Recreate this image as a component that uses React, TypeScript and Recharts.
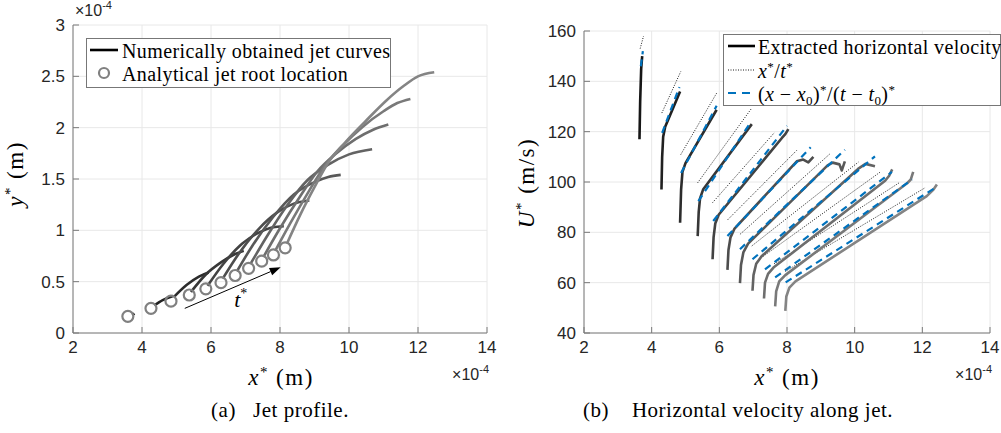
import React from 'react';
import { ComposedChart, Line, XAxis, YAxis, CartesianGrid, ReferenceLine } from 'recharts';

const SERIF = '"Liberation Serif", "DejaVu Serif", serif';
const SANS = '"Liberation Sans", Arial, sans-serif';

// x values are in units of 1e-4 m
const xTicks = [2, 4, 6, 8, 10, 12, 14];
const yTicksProfile = [0, 0.5, 1, 1.5, 2, 2.5, 3];
const uTicks = [40, 60, 80, 100, 120, 140, 160];

// (a) jet roots (analytical)
const jetRoots = [
  [3.59, 0.162], [4.26, 0.24], [4.84, 0.31], [5.37, 0.37], [5.85, 0.43], [6.29, 0.49],
  [6.70, 0.56], [7.09, 0.63], [7.47, 0.70], [7.81, 0.76], [8.15, 0.83],
];

// (a) numerically obtained jet curves
const jet1 = [[3.72, 0.175], [3.78, 0.19]];
const jet2 = [[4.36, 0.27], [4.6, 0.32], [4.9, 0.36]];
const jet3 = [[4.92, 0.35], [5.3, 0.47], [5.65, 0.55], [5.93, 0.59]];
const jet4 = [[5.42, 0.4], [5.85, 0.57], [6.3, 0.69], [6.7, 0.77], [6.95, 0.8]];
const jet5 = [[5.9, 0.46], [6.35, 0.67], [6.9, 0.87], [7.4, 0.98], [7.8, 1.03], [8.11, 1.04]];
const jet6 = [[6.34, 0.53], [6.8, 0.77], [7.4, 1.02], [7.9, 1.17], [8.4, 1.26], [8.85, 1.29]];
const jet7 = [[6.75, 0.6], [7.2, 0.85], [7.8, 1.13], [8.4, 1.35], [9.0, 1.47], [9.4, 1.52], [9.76, 1.54]];
const jet8 = [[7.14, 0.67], [7.6, 0.93], [8.2, 1.24], [8.8, 1.49], [9.4, 1.64], [10.0, 1.74], [10.67, 1.79]];
const jet9 = [[7.52, 0.74], [8.0, 1.02], [8.6, 1.34], [9.1, 1.58], [9.6, 1.74], [10.2, 1.89], [10.7, 1.98], [11.14, 2.03]];
const jet10 = [[7.86, 0.8], [8.3, 1.07], [8.8, 1.36], [9.3, 1.63], [9.8, 1.82], [10.4, 2.01], [11.0, 2.16], [11.4, 2.24], [11.78, 2.28]];
const jet11 = [[8.2, 0.87], [8.6, 1.16], [9.0, 1.42], [9.4, 1.66], [9.9, 1.86], [10.5, 2.07], [11.1, 2.27], [11.6, 2.41], [12.0, 2.5], [12.47, 2.54]];
const jets = [jet1, jet2, jet3, jet4, jet5, jet6, jet7, jet8, jet9, jet10, jet11];

// t* arrow
const arrowStart = { x: 5.24, y: 0.24 };
const arrowEnd = { x: 8.02, y: 0.64 };

// (b) extracted horizontal velocity
const vel1 = [[3.64, 117], [3.66, 132], [3.69, 145], [3.72, 150]];
const vel2 = [[4.29, 97], [4.31, 110], [4.34, 118], [4.4, 122], [4.84, 136]];
const vel3 = [[4.84, 83.8], [4.87, 97], [4.91, 104], [5.0, 107.5], [5.92, 128.7]];
const vel4 = [[5.36, 78.5], [5.39, 88], [5.43, 93.5], [5.52, 97], [6.96, 123]];
const vel5 = [[5.8, 69.3], [5.83, 78], [5.88, 83.5], [5.98, 87], [7.85, 117.5], [7.95, 119], [8.04, 121]];
const vel6 = [[6.24, 65.1], [6.27, 73], [6.33, 78], [6.45, 81.5], [8.29, 108.2], [8.48, 108.9], [8.63, 107.8], [8.78, 110]];
const vel7 = [[6.61, 59.8], [6.64, 67], [6.71, 72], [6.85, 75.5], [9.2, 106.6], [9.35, 107.7], [9.55, 107], [9.62, 104.6], [9.71, 108.2]];
const vel8 = [[6.98, 56.8], [7.01, 63], [7.09, 67.5], [7.25, 70.5], [10.1, 105.2], [10.32, 107.2], [10.6, 106.3]];
const vel9 = [[7.32, 53.7], [7.35, 60], [7.44, 63.5], [7.6, 66], [10.9, 100.5], [11.02, 102.5], [11.11, 105]];
const vel10 = [[7.65, 50.6], [7.68, 56.5], [7.77, 60.5], [7.95, 63], [11.55, 99.5], [11.66, 101], [11.73, 104]];
const vel11 = [[7.95, 48.8], [7.98, 54.5], [8.07, 58], [8.25, 60.5], [12.13, 94.4], [12.33, 97], [12.43, 99]];
const velocities = [vel1, vel2, vel3, vel4, vel5, vel6, vel7, vel8, vel9, vel10, vel11];

// (b) x*/t*
const xOverT = [
  [[3.66, 153], [3.76, 158]], [[4.3, 127.4], [4.86, 143.9]], [[4.86, 110.9], [5.92, 135.3]],
  [[5.36, 99.7], [6.96, 129.4]], [[5.8, 91.8], [7.62, 119.5]], [[6.24, 84.9], [8.29, 112.6]],
  [[6.61, 79.2], [9.27, 111.2]], [[6.96, 74.6], [10.11, 107.9]], [[7.3, 70.5], [10.75, 103.9]],
  [[7.62, 67.5], [11.34, 99.9]], [[7.95, 64.5], [12.08, 97.7]],
];

// (b) (x-x0)*/(t-t0)*
const shifted = [
  [[3.68, 146], [3.74, 152]], [[4.31, 119.5], [4.82, 137.7]], [[4.87, 103.6], [5.92, 130.3]],
  [[5.38, 92.4], [6.91, 123.4]], [[5.82, 84.5], [8.0, 122.3]], [[6.24, 78.5], [8.7, 113.8]],
  [[6.61, 73.3], [9.71, 112.8]], [[6.98, 69.3], [10.6, 110.2]], [[7.35, 65.3], [11.1, 104]],
  [[7.65, 62.1], [11.7, 101]], [[7.96, 60.1], [12.38, 97.7]],
];

const toPts = (arr: number[][]) => arr.map(([x, y]) => ({ x, y }));
const grey = (i: number) => {
  const v = Math.round(22 + i * 11).toString(16).padStart(2, '0');
  return `#${v}${v}${v}`;
};

const AXIS = '#7a7a7a';
const tickStyle = { fill: '#262626', fontSize: 17, fontFamily: SANS };

const ArrowShape = (p: any) => {
  const { x1, y1, x2, y2 } = p;
  const a = Math.atan2(y2 - y1, x2 - x1);
  const L = 11, W = 4;
  const bx = x2 - L * Math.cos(a), by = y2 - L * Math.sin(a);
  const pts = `${x2},${y2} ${bx - W * Math.sin(a)},${by + W * Math.cos(a)} ${bx + W * Math.sin(a)},${by - W * Math.cos(a)}`;
  const mx = (x1 + x2) / 2, my = (y1 + y2) / 2;
  return (
    <g>
      <line x1={x1} y1={y1} x2={bx} y2={by} stroke="#000" strokeWidth={1} />
      <polygon points={pts} fill="#000" />
      <text x={mx + 8} y={my + 19} fontFamily={SERIF} fontSize={22} fontStyle="italic" textAnchor="middle" fill="#000">
        t<tspan fontSize={14} dy={-9} fontStyle="normal">*</tspan>
      </text>
    </g>
  );
};

const sup = (s: string) => <sup style={{ fontSize: '0.65em', verticalAlign: '0.55em', lineHeight: 0 }}>{s}</sup>;
const sub = (s: string) => <sub style={{ fontSize: '0.65em', verticalAlign: '-0.3em', lineHeight: 0 }}>{s}</sub>;

const Exp = ({ left, top, align }: { left: number; top: number; align?: string }) => (
  <div style={{ position: 'absolute', left, top, fontFamily: SANS, fontSize: 16, color: '#262626', whiteSpace: 'nowrap', transform: align === 'right' ? 'translateX(-100%)' : undefined }}>
    ×10<sup style={{ fontSize: 11, verticalAlign: '0.6em', lineHeight: 0 }}>-4</sup>
  </div>
);

const abs = (left: number, top: number, extra: any = {}) => ({ position: 'absolute' as const, left, top, whiteSpace: 'nowrap' as const, ...extra });
const legendText = { fontFamily: SERIF, fontSize: 20, letterSpacing: 0.4, lineHeight: '22px', color: '#000' };
const axisLabel = { fontFamily: SERIF, fontSize: 23, letterSpacing: 1.5, color: '#000' };
const caption = { fontFamily: SERIF, fontSize: 21, letterSpacing: 0.5, color: '#000' };

export default function App() {
  return (
    <div style={{ position: 'absolute', left: 0, top: 0, width: 1001, height: 433, background: '#fff', overflow: 'hidden' }}>
      {/* (a) jet profile */}
      <div style={{ position: 'absolute', left: 0, top: 0 }}>
        <ComposedChart width={500} height={433} margin={{ top: 25, right: 13, bottom: 70, left: 33 }}>
          <CartesianGrid stroke="#e8e8e8" />
          <XAxis type="number" dataKey="x" domain={[2, 14]} ticks={xTicks} allowDataOverflow height={30}
            stroke={AXIS} tickSize={-6} tickMargin={14} tick={tickStyle} />
          <XAxis xAxisId="top" orientation="top" type="number" dataKey="x" domain={[2, 14]} ticks={xTicks} allowDataOverflow
            height={0} stroke={AXIS} tickSize={-6} tick={false} />
          <YAxis type="number" dataKey="y" domain={[0, 3]} ticks={yTicksProfile} allowDataOverflow width={40}
            stroke={AXIS} tickSize={-6} tickMargin={14} tick={tickStyle} />
          <YAxis yAxisId="right" orientation="right" type="number" dataKey="y" domain={[0, 3]} ticks={yTicksProfile}
            allowDataOverflow width={0} stroke={AXIS} tickSize={-6} tick={false} />
          {jets.map((j, i) => (
            <Line key={'jet' + i} data={toPts(j)} dataKey="y" type="monotone" stroke={grey(i)} strokeWidth={2.6}
              dot={false} activeDot={false} isAnimationActive={false} />
          ))}
          <Line data={toPts(jetRoots)} dataKey="y" stroke="none" isAnimationActive={false} activeDot={false}
            dot={{ r: 5.5, stroke: '#808080', strokeWidth: 2.2, fill: 'none' }} />
          <ReferenceLine segment={[arrowStart, arrowEnd]} shape={ArrowShape} ifOverflow="visible" />
        </ComposedChart>
      </div>

      {/* (b) horizontal velocity */}
      <div style={{ position: 'absolute', left: 500, top: 0 }}>
        <ComposedChart width={501} height={433} margin={{ top: 31, right: 11, bottom: 70, left: 44 }}>
          <CartesianGrid stroke="#e8e8e8" />
          <XAxis type="number" dataKey="x" domain={[2, 14]} ticks={xTicks} allowDataOverflow height={30}
            stroke={AXIS} tickSize={-6} tickMargin={14} tick={tickStyle} />
          <XAxis xAxisId="top" orientation="top" type="number" dataKey="x" domain={[2, 14]} ticks={xTicks} allowDataOverflow
            height={0} stroke={AXIS} tickSize={-6} tick={false} />
          <YAxis type="number" dataKey="y" domain={[40, 160]} ticks={uTicks} allowDataOverflow width={40}
            stroke={AXIS} tickSize={-6} tickMargin={14} tick={tickStyle} />
          <YAxis yAxisId="right" orientation="right" type="number" dataKey="y" domain={[40, 160]} ticks={uTicks}
            allowDataOverflow width={0} stroke={AXIS} tickSize={-6} tick={false} />
          {xOverT.map((d, i) => (
            <Line key={'d' + i} data={toPts(d)} dataKey="y" type="linear" stroke="#1a1a1a" strokeWidth={1}
              strokeDasharray="1 1.5" dot={false} activeDot={false} isAnimationActive={false} />
          ))}
          {velocities.map((v, i) => (
            <Line key={'v' + i} data={toPts(v)} dataKey="y" type="linear" stroke={grey(i)} strokeWidth={2.6}
              strokeLinejoin="round" dot={false} activeDot={false} isAnimationActive={false} />
          ))}
          {shifted.map((d, i) => (
            <Line key={'b' + i} data={toPts(d)} dataKey="y" type="linear" stroke="#0072BD" strokeWidth={2.2}
              strokeDasharray="7 5" dot={false} activeDot={false} isAnimationActive={false} />
          ))}
        </ComposedChart>
      </div>

      {/* exponent labels */}
      <Exp left={75} top={2} />
      <Exp left={489} top={366} align="right" />
      <Exp left={992} top={366} align="right" />

      {/* axis labels */}
      <div style={abs(281, 378, { transform: 'translate(-50%,-50%)', ...axisLabel })}>
        <i>x</i>{sup('*')} (m)
      </div>
      <div style={abs(787, 378, { transform: 'translate(-50%,-50%)', ...axisLabel })}>
        <i>x</i>{sup('*')} (m)
      </div>
      <div style={abs(16, 174, { transform: 'translate(-50%,-50%) rotate(-90deg)', ...axisLabel })}>
        <i>y</i>{sup('*')} (m)
      </div>
      <div style={abs(527, 183, { transform: 'translate(-50%,-50%) rotate(-90deg)', ...axisLabel })}>
        <i>U</i>{sup('*')} (m/s)
      </div>

      {/* captions */}
      <div style={abs(280, 410, { transform: 'translate(-50%,-50%)', ...caption })}>
        (a)&nbsp;&nbsp;&nbsp;Jet profile.
      </div>
      <div style={abs(738, 410, { transform: 'translate(-50%,-50%)', ...caption })}>
        (b)&nbsp;&nbsp;&nbsp;&nbsp;Horizontal velocity along jet.
      </div>

      {/* legend (a) */}
      <div style={abs(86, 38, { width: 305, height: 50, border: '1px solid #777', background: '#fff', boxSizing: 'border-box' })}>
        <svg width={305} height={50} style={{ position: 'absolute', left: -1, top: -1 }}>
          <line x1={4} y1={12} x2={32} y2={12} stroke="#000" strokeWidth={2.6} />
          <circle cx={18} cy={35} r={5} stroke="#808080" strokeWidth={2.2} fill="none" />
        </svg>
        <div style={abs(35, 1, legendText)}>Numerically obtained jet curves</div>
        <div style={abs(35, 24, legendText)}>Analytical jet root location</div>
      </div>

      {/* legend (b) */}
      <div style={abs(723, 34, { width: 278, height: 72, border: '1px solid #777', background: '#fff', boxSizing: 'border-box' })}>
        <svg width={278} height={72} style={{ position: 'absolute', left: -1, top: -1 }}>
          <line x1={5} y1={12} x2={32} y2={12} stroke="#000" strokeWidth={2.6} />
          <line x1={5} y1={36} x2={32} y2={36} stroke="#1a1a1a" strokeWidth={1} strokeDasharray="1 1.5" />
          <line x1={5} y1={59} x2={32} y2={59} stroke="#0072BD" strokeWidth={2.2} strokeDasharray="8 6" />
        </svg>
        <div style={abs(34, 1, legendText)}>Extracted horizontal velocity</div>
        <div style={abs(34, 25, legendText)}>
          <i>x</i>{sup('*')}/<i>t</i>{sup('*')}
        </div>
        <div style={abs(34, 48, legendText)}>
          (<i>x</i> − <i>x</i>{sub('0')}){sup('*')}/(<i>t</i> − <i>t</i>{sub('0')}){sup('*')}
        </div>
      </div>
    </div>
  );
}
